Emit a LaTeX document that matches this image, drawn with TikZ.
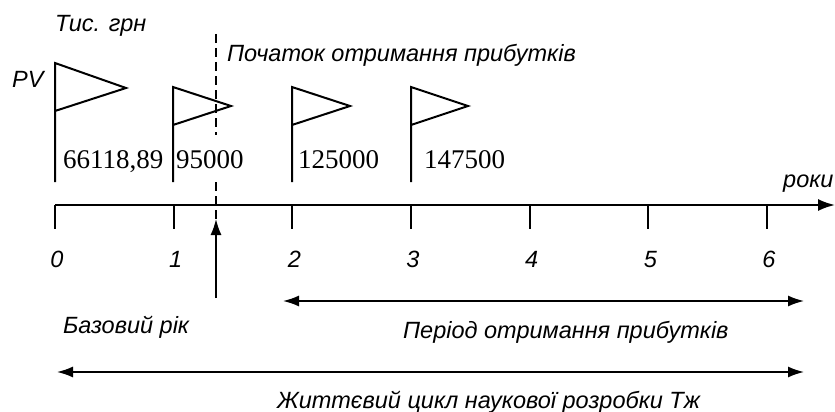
\documentclass[tikz,border=0pt]{standalone}
\usepackage{fontspec}
\setmainfont{Liberation Serif}
\setsansfont{Liberation Sans}
\usetikzlibrary{arrows.meta}
\begin{document}
\begin{tikzpicture}[x=1pt,y=-1pt,
  lbl/.style={font=\sffamily\itshape\fontsize{23.5}{26}\selectfont, inner sep=0pt, anchor=base west},
  ticklbl/.style={font=\sffamily\itshape\fontsize{23.5}{26}\selectfont, inner sep=0pt, anchor=base},
  val/.style={font=\rmfamily\fontsize{27}{30}\selectfont, inner sep=0pt, anchor=base west},
  flagline/.style={line width=2pt, line join=miter},
  axisline/.style={line width=2pt},
  tickline/.style={line width=2pt},
  startline/.style={line width=1.2pt, dash pattern=on 9pt off 5pt},
  spanarrow/.style={line width=1.6pt, {Latex[length=16pt,width=11pt]}-{Latex[length=16pt,width=11pt]}},
  pointer/.style={line width=1.6pt, -{Latex[length=16pt,width=11pt]}}]
\useasboundingbox (0,0) rectangle (835,412);

% axis labels
\node[lbl] (units) at (55,32) {Тис. грн};
\node[lbl] (pv) at (12,88) {PV};
\node[lbl] (years) at (783,187) {роки};
\node[lbl] (start) at (227,62) {Початок отримання прибутків};

% flags with cash flows
\draw[flagline] (55,182) -- (55,63) -- (126,88) -- (55,111);
\draw[flagline] (173,182) -- (173,87) -- (231,106) -- (173,125);
\draw[flagline] (292,182) -- (292,87) -- (350,106) -- (292,125);
\draw[flagline] (411,182) -- (411,87) -- (468,106) -- (411,125);
\node[val] (v0) at (63,168) {66118,89};
\node[val] (v1) at (176,168) {95000};
\node[val] (v2) at (298,168) {125000};
\node[val] (v3) at (424,168) {147500};

% time axis
\coordinate (a0) at (55,205);
\coordinate (aend) at (835,205);
\draw[axisline, -{Latex[length=17pt,width=12pt]}] (a0) -- (aend);
\foreach \i in {0,...,6} {
  \coordinate (t\i) at (55+118.67*\i,205);
  \draw[tickline] (t\i) -- ++(0,24);
  \node[ticklbl] (n\i) at (57+118.67*\i,267) {\i};
}

% start of profits: dashed marker, interrupted by the value label
\coordinate (d0) at (216,34);
\coordinate (d1) at (216,135);
\coordinate (d2) at (216,182);
\coordinate (d3) at (216,219);
\draw[startline] (d0) -- (d1);
\draw[startline] (d2) -- (d3);
\coordinate (b0) at (216,298);
\coordinate (b1) at (216,219);
\draw[pointer] (b0) -- (b1);
\node[lbl] (base) at (63,333) {Базовий рік};

% periods
\coordinate (p0) at (283,301);
\coordinate (p1) at (804,301);
\draw[spanarrow] (p0) -- (p1);
\node[lbl] (profit) at (403,338) {Період отримання прибутків};
\coordinate (l0) at (57,372);
\coordinate (l1) at (804,372);
\draw[spanarrow] (l0) -- (l1);
\node[lbl] (life) at (277,408) {Життєвий цикл наукової розробки Тж};
\end{tikzpicture}
\end{document}
